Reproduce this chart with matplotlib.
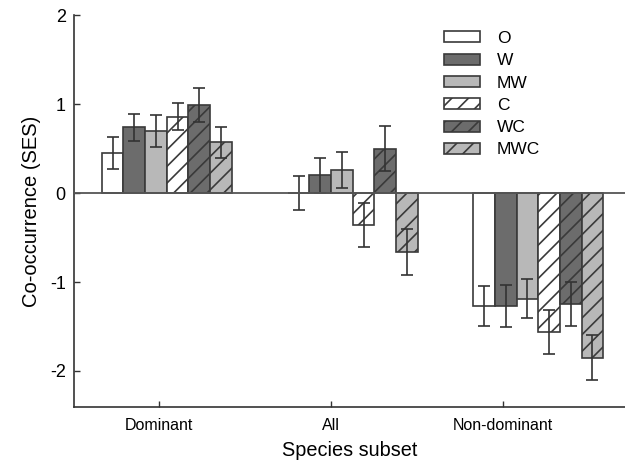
import matplotlib
matplotlib.use("Agg")
import matplotlib.pyplot as plt
import numpy as np

plt.rcParams['font.family'] = ['Liberation Sans', 'DejaVu Sans']
plt.rcParams['hatch.linewidth'] = 1.2

subsets = ["Dominant", "All", "Non-dominant"]
treatments = ["O", "W", "MW", "C", "WC", "MWC"]
means = {
    "O":   [0.45, 0.00, -1.27],
    "W":   [0.74, 0.20, -1.27],
    "MW":  [0.70, 0.26, -1.19],
    "C":   [0.86, -0.36, -1.56],
    "WC":  [0.99, 0.50, -1.25],
    "MWC": [0.57, -0.66, -1.85],
}
errors = {
    "O":   [0.18, 0.19, 0.22],
    "W":   [0.15, 0.20, 0.24],
    "MW":  [0.18, 0.20, 0.22],
    "C":   [0.15, 0.25, 0.25],
    "WC":  [0.19, 0.25, 0.25],
    "MWC": [0.17, 0.26, 0.25],
}

fills = {"O": "white", "W": "#6c6c6c", "MW": "#b8b8b8",
         "C": "white", "WC": "#6c6c6c", "MWC": "#b8b8b8"}
hatches = {"O": None, "W": None, "MW": None, "C": "//", "WC": "//", "MWC": "//"}
edge = "#3a3a3a"

fig = plt.figure(figsize=(6.25, 4.63), dpi=100)
ax = fig.add_axes([74/625, 1-407/463, 1-74/625, (407-15.3)/463])

tick_pos = np.arange(len(subsets))
group_centers = np.array([0.0465, 1.1285, 2.2064])
width = 0.126

for i, t in enumerate(treatments):
    x = group_centers + (i - 2.5) * width
    ax.bar(x, means[t], width=width, color=fills[t], edgecolor=edge,
           linewidth=1.2, hatch=hatches[t], label=t, zorder=2)
    ax.errorbar(x, means[t], yerr=errors[t], fmt='none', ecolor="#333333",
                elinewidth=1.2, capsize=4.3, capthick=1.2, zorder=3)

ax.axhline(0, color="#555555", lw=1.3, zorder=4)

ax.set_xlim(-0.4924, 2.711)
ax.set_ylim(-2.406, 2)
ax.set_yticks([-2, -1, 0, 1, 2])
ax.set_yticklabels(["-2", "-1", "0", "1", "2"])
ax.set_xticks(tick_pos)
ax.set_xticklabels(subsets)
ax.tick_params(axis='both', direction='in', length=4, width=1.0, color="#333333")
ax.tick_params(axis='y', labelsize=13, pad=6)
ax.tick_params(axis='x', labelsize=11.5, pad=8)
for s in ["top", "right"]:
    ax.spines[s].set_visible(False)
for s in ["left", "bottom"]:
    ax.spines[s].set_color("#333333")
    ax.spines[s].set_linewidth(1.2)

ax.set_ylabel("Co-occurrence (SES)", fontsize=14.5, labelpad=6)
ax.set_xlabel("Species subset", fontsize=14.3, labelpad=6)

leg = ax.legend(loc="upper left", bbox_to_anchor=(444/625, 1-31/463),
                bbox_transform=fig.transFigure, frameon=False, fontsize=12.5,
                handlelength=2.1, handleheight=0.6, handletextpad=0.95,
                labelspacing=0.42, borderpad=0, borderaxespad=0)

fig.savefig("out.png", dpi=100)
